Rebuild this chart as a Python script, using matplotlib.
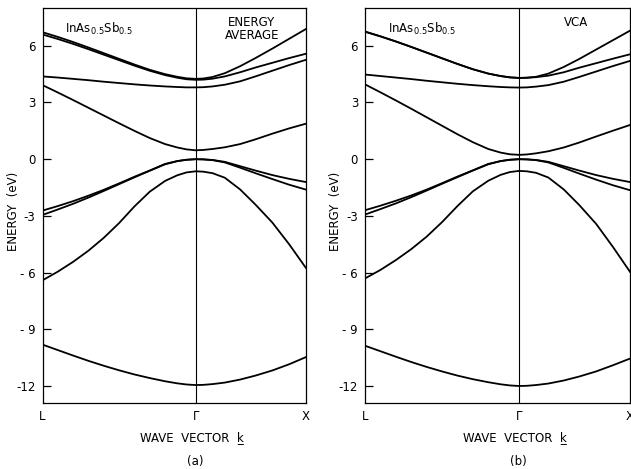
import numpy as np
import matplotlib.pyplot as plt

# k-path positions: L -> Gamma -> X
k_path = [0.0, 0.1, 0.2, 0.3, 0.4, 0.5, 0.6, 0.7, 0.8, 0.88, 0.94, 1.0,
          1.05, 1.11, 1.19, 1.29, 1.39, 1.5, 1.61, 1.72]
k_ticks = [0.0, 1.0, 1.72]
k_labels = ['L', 'Γ', 'X']
e_ticks = [6, 3, 0, -3, -6, -9, -12]
e_labels = ['6', '3', '0', '-3', '- 6', '- 9', '-12']

# (a) energy average bands (eV)
bands_a = [
    [-9.81, -10.1, -10.39, -10.67, -10.93, -11.17, -11.39, -11.58, -11.75, -11.86, -11.92, -11.95,
     -11.94, -11.9, -11.82, -11.66, -11.45, -11.18, -10.85, -10.47],
    [-6.41, -5.95, -5.43, -4.84, -4.16, -3.38, -2.5, -1.72, -1.15, -0.85, -0.7, -0.64,
     -0.66, -0.74, -0.98, -1.6, -2.4, -3.35, -4.5, -5.76],
    [-2.95, -2.66, -2.36, -2.03, -1.68, -1.32, -0.96, -0.61, -0.27, -0.1, -0.03, 0.0,
     -0.01, -0.05, -0.17, -0.45, -0.74, -1.05, -1.35, -1.61],
    [-2.72, -2.48, -2.22, -1.93, -1.62, -1.28, -0.93, -0.6, -0.25, -0.1, -0.03, 0.0,
     -0.01, -0.04, -0.14, -0.37, -0.6, -0.84, -1.04, -1.21],
    [3.92, 3.53, 3.13, 2.72, 2.31, 1.9, 1.5, 1.12, 0.8, 0.62, 0.52, 0.47,
     0.49, 0.54, 0.63, 0.8, 1.05, 1.35, 1.63, 1.88],
    [4.38, 4.32, 4.25, 4.18, 4.1, 4.03, 3.96, 3.9, 3.85, 3.82, 3.8, 3.8,
     3.81, 3.85, 3.94, 4.12, 4.38, 4.68, 4.98, 5.26],
    [6.6, 6.36, 6.1, 5.82, 5.53, 5.24, 4.95, 4.68, 4.45, 4.31, 4.23, 4.2,
     4.21, 4.26, 4.38, 4.6, 4.85, 5.1, 5.35, 5.58],
    [6.72, 6.47, 6.2, 5.91, 5.61, 5.31, 5.01, 4.73, 4.5, 4.36, 4.28, 4.25,
     4.27, 4.35, 4.55, 4.92, 5.35, 5.85, 6.37, 6.89],
]

# (b) VCA bands (eV)
bands_b = [
    [-9.87, -10.16, -10.45, -10.73, -10.99, -11.23, -11.45, -11.64, -11.8, -11.91, -11.97, -12.0,
     -11.99, -11.95, -11.87, -11.71, -11.5, -11.23, -10.9, -10.55],
    [-6.31, -5.86, -5.34, -4.76, -4.1, -3.33, -2.48, -1.7, -1.14, -0.83, -0.68, -0.62,
     -0.64, -0.72, -0.97, -1.6, -2.42, -3.42, -4.65, -5.96],
    [-2.93, -2.64, -2.34, -2.01, -1.66, -1.3, -0.95, -0.6, -0.27, -0.1, -0.03, 0.0,
     -0.01, -0.05, -0.17, -0.46, -0.76, -1.08, -1.38, -1.64],
    [-2.7, -2.46, -2.2, -1.92, -1.61, -1.27, -0.92, -0.59, -0.25, -0.1, -0.03, 0.0,
     -0.01, -0.04, -0.14, -0.37, -0.6, -0.84, -1.04, -1.21],
    [3.96, 3.54, 3.11, 2.67, 2.22, 1.77, 1.32, 0.9, 0.54, 0.35, 0.26, 0.23,
     0.25, 0.31, 0.42, 0.62, 0.88, 1.2, 1.51, 1.81],
    [4.48, 4.4, 4.32, 4.24, 4.15, 4.07, 3.99, 3.92, 3.86, 3.82, 3.8, 3.79,
     3.8, 3.84, 3.92, 4.1, 4.35, 4.64, 4.93, 5.2],
    [6.75, 6.5, 6.23, 5.94, 5.64, 5.34, 5.04, 4.76, 4.53, 4.4, 4.33, 4.3,
     4.31, 4.34, 4.42, 4.6, 4.84, 5.08, 5.32, 5.55],
    [6.75, 6.5, 6.23, 5.94, 5.64, 5.34, 5.04, 4.76, 4.53, 4.4, 4.33, 4.3,
     4.31, 4.36, 4.53, 4.88, 5.3, 5.8, 6.3, 6.8],
]

panels = [
    (bands_a, 'ENERGY\nAVERAGE', '(a)', [42.5 / 631, 66 / 469, 263.5 / 631, 395 / 469]),
    (bands_b, 'VCA', '(b)', [365 / 631, 66 / 469, 265 / 631, 395 / 469]),
]

fig = plt.figure(figsize=(6.31, 4.69), dpi=100)

for bands, method, tag, rect in panels:
    ax = fig.add_axes(rect)
    for band in bands:
        ax.plot(k_path, band, color='black', linewidth=1.3)
    ax.axvline(1.0, color='black', linewidth=0.8)

    ax.set_xlim(0, 1.72)
    ax.set_ylim(-12.9, 8.0)
    ax.set_xticks(k_ticks)
    ax.set_xticklabels(k_labels)
    ax.set_yticks(e_ticks)
    ax.set_yticklabels(e_labels)
    ax.tick_params(axis='y', direction='in', length=6, width=0.9, pad=5, labelsize=8.5)
    ax.tick_params(axis='x', length=0, pad=5, labelsize=8.5)
    for s in ax.spines.values():
        s.set_linewidth(0.9)

    ax.set_ylabel('ENERGY  (eV)', fontsize=8.5)
    ax.yaxis.set_label_coords(-0.085, 0.486)
    ax.set_xlabel('WAVE  VECTOR  k\u0332', fontsize=8.5)
    ax.xaxis.set_label_coords(0.567, -0.072)

    ax.text(0.085, 0.968, r'InAs$_{\mathregular{0.5}}$Sb$_{\mathregular{0.5}}$',
            transform=ax.transAxes, fontsize=8.5, va='top', ha='left')
    ax.text(0.795, 0.98, method, transform=ax.transAxes, fontsize=8.5,
            va='top', ha='center', linespacing=1.05)
    ax.text(0.58, -0.132, tag, transform=ax.transAxes, fontsize=8.5,
            va='top', ha='center')

fig.savefig('out.png', dpi=100)
